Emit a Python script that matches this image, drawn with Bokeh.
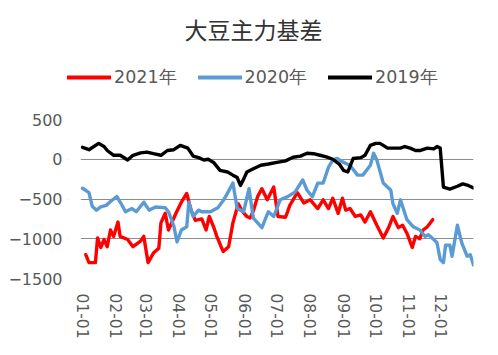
from bokeh.plotting import figure
from bokeh.models import Range1d, FixedTicker, Legend, LegendItem, Label, BoxAnnotation
from bokeh.layouts import column
from bokeh.embed import file_html
from bokeh.resources import INLINE

# ---- data (day of year, basis value) ----
month_ticks = [0, 31, 59, 90, 120, 151, 181, 212, 243, 273, 304, 334]
month_labels = ["01-01", "02-01", "03-01", "04-01", "05-01", "06-01",
                "07-01", "08-01", "09-01", "10-01", "11-01", "12-01"]
y_ticks = [-1500, -1000, -500, 0, 500]

days_2021 = [3, 6, 12, 14, 17, 20, 23, 26, 29, 33, 35, 42, 47, 54, 57, 61, 66, 71, 73, 77,
             80, 87, 92, 97, 101, 105, 111, 115, 118, 122, 125, 129, 131, 136, 140, 145, 149,
             153, 156, 159, 163, 167, 172, 178, 182, 189, 193, 200, 206, 212, 219, 224, 229,
             233, 238, 242, 245, 249, 254, 259, 263, 268, 274, 280, 285, 289, 294, 298, 302,
             307, 310, 314, 317, 321, 326]
vals_2021 = [-1200, -1300, -1300, -990, -1110, -1010, -1100, -890, -970, -790, -970, -1010,
             -1100, -1030, -970, -1300, -1180, -1120, -800, -680, -890, -680, -540, -430,
             -640, -770, -750, -890, -720, -850, -970, -1100, -1160, -1100, -800, -560, -660,
             -720, -740, -650, -470, -370, -510, -350, -720, -730, -580, -420, -550, -510,
             -620, -510, -620, -490, -680, -490, -640, -620, -720, -700, -790, -660, -830,
             -990, -860, -720, -860, -830, -930, -1110, -970, -1000, -890, -850, -760]

days_2020 = [0, 6, 9, 13, 17, 22, 27, 32, 36, 40, 46, 50, 57, 62, 68, 77, 80, 85, 88, 92,
             97, 99, 103, 108, 111, 119, 126, 131, 135, 140, 144, 147, 150, 155, 159, 167,
             173, 178, 184, 191, 198, 205, 209, 214, 219, 224, 229, 233, 237, 243, 249, 256,
             261, 268, 271, 274, 280, 287, 289, 293, 296, 302, 308, 314, 319, 322, 327, 330,
             333, 336, 338, 342, 344, 349, 353, 358, 361, 364]
vals_2020 = [-365, -420, -590, -640, -600, -580, -520, -470, -560, -660, -620, -660, -540,
             -640, -600, -610, -660, -840, -1040, -890, -850, -540, -720, -640, -660, -660,
             -610, -520, -425, -300, -620, -640, -660, -370, -740, -860, -660, -720, -510,
             -470, -410, -260, -390, -470, -300, -300, -100, -10, 10, -40, -75, -200, -200,
             -75, 75, -10, -300, -390, -560, -680, -510, -760, -850, -890, -970, -950, -1010,
             -1050, -1260, -1300, -1080, -1080, -1220, -830, -1050, -1220, -1200, -1330]

days_2019 = [0, 6, 15, 20, 23, 29, 35, 42, 47, 54, 60, 66, 73, 79, 85, 91, 98, 103, 108,
             113, 117, 122, 128, 135, 140, 144, 147, 150, 153, 159, 166, 173, 181, 189, 196,
             203, 209, 215, 221, 227, 233, 239, 243, 247, 252, 259, 263, 268, 273, 277, 284,
             289, 296, 300, 305, 310, 314, 321, 327, 330, 333, 336, 342, 349, 354, 359, 364]
vals_2019 = [150, 120, 200, 160, 110, 50, 50, -10, 50, 80, 90, 70, 50, 110, 120, 175, 140,
             40, 20, -10, 0, -40, -140, -160, -200, -230, -330, -250, -160, -120, -75, -60,
             -40, -20, 25, 40, 75, 70, 50, 30, 0, -60, -140, -160, 10, 20, 50, 175, 200, 200,
             140, 140, 140, 160, 140, 110, 110, 140, 130, 160, 140, -350, -375, -340, -310,
             -330, -360]

series = [("2021年", days_2021, vals_2021, "#FF0000"),
          ("2020年", days_2020, vals_2020, "#5B9BD5"),
          ("2019年", days_2019, vals_2019, "#000000")]

title_text = "大豆主力基差"
TXT = "#595959"
FONT = "DejaVu Sans"
LW = 3.4

W = 482
BL, BR = 67, 9          # frame borders (the frame is shared by header and chart)
FW = W - BL - BR

# ---- main chart ----
p = figure(width=W, height=242, output_backend="svg", toolbar_location=None,
           x_range=Range1d(-14.0, 364), y_range=Range1d(-1500, 500),
           min_border_left=BL, min_border_right=BR, min_border_top=14, min_border_bottom=69)
p.outline_line_color = None
p.xgrid.grid_line_color = None
p.ygrid.grid_line_color = "#8C8C8C"
p.ygrid.grid_line_width = 1
p.ygrid.ticker = FixedTicker(ticks=y_ticks)
# blank margin between the left of the frame and the first day (gridlines start at the data)
p.add_layout(BoxAnnotation(right=-1.6, fill_color="white", fill_alpha=1.0,
                           line_color=None, level="underlay"))

p.yaxis.ticker = FixedTicker(ticks=y_ticks)
p.yaxis.axis_line_color = None
p.yaxis.major_tick_line_color = None
p.yaxis.minor_tick_line_color = None
p.yaxis.major_tick_out = 0
p.yaxis.major_tick_in = 0
p.yaxis.major_label_text_font = FONT
p.yaxis.major_label_text_font_size = "16px"
p.yaxis.major_label_text_color = TXT
p.yaxis.major_label_standoff = 5

p.xaxis.ticker = FixedTicker(ticks=month_ticks)
p.xaxis.major_label_overrides = {t: l for t, l in zip(month_ticks, month_labels)}
p.xaxis.major_label_orientation = "vertical"
p.xaxis.axis_line_color = None
p.xaxis.major_tick_line_color = None
p.xaxis.minor_tick_line_color = None
p.xaxis.major_tick_out = 0
p.xaxis.major_tick_in = 0
p.xaxis.major_label_text_font = FONT
p.xaxis.major_label_text_font_size = "15.5px"
p.xaxis.major_label_text_color = TXT
p.xaxis.major_label_standoff = 15

for name, d, v, c in series:
    p.line(d, v, line_color=c, line_width=LW, line_join="round", line_cap="round")

# ---- header: title + legend ----
HH = 105
head = figure(width=W, height=HH, output_backend="svg", toolbar_location=None,
              x_range=Range1d(0, FW), y_range=Range1d(0, HH),
              min_border_left=BL, min_border_right=BR, min_border_top=0, min_border_bottom=0,
              x_axis_type=None, y_axis_type=None)
head.outline_line_color = None
head.xgrid.visible = False
head.ygrid.visible = False
head.add_layout(Label(x=186, y=HH - 28, text=title_text, text_align="center",
                      text_baseline="middle", text_font="Noto Sans CJK SC",
                      text_font_size="23px", text_color="#333333"))

items = []
for name, d, v, c in series:
    # legend proxy with the series' style, kept outside the header's visible range
    r = head.line([-20, -10], [-20, -20], line_color=c, line_width=4, line_cap="round")
    items.append(LegendItem(label=name, renderers=[r]))
legend = Legend(items=items, orientation="horizontal", location=(0, HH - 79 - 10),
                glyph_width=44, glyph_height=20, label_height=20, label_standoff=3,
                spacing=21, padding=0, margin=0, border_line_color=None,
                background_fill_alpha=0, label_text_font=FONT,
                label_text_font_size="17.5px", label_text_color=TXT)
head.add_layout(legend, "center")

layout = column(head, p, spacing=0)
open("out.html", "w").write(file_html(layout, INLINE))
